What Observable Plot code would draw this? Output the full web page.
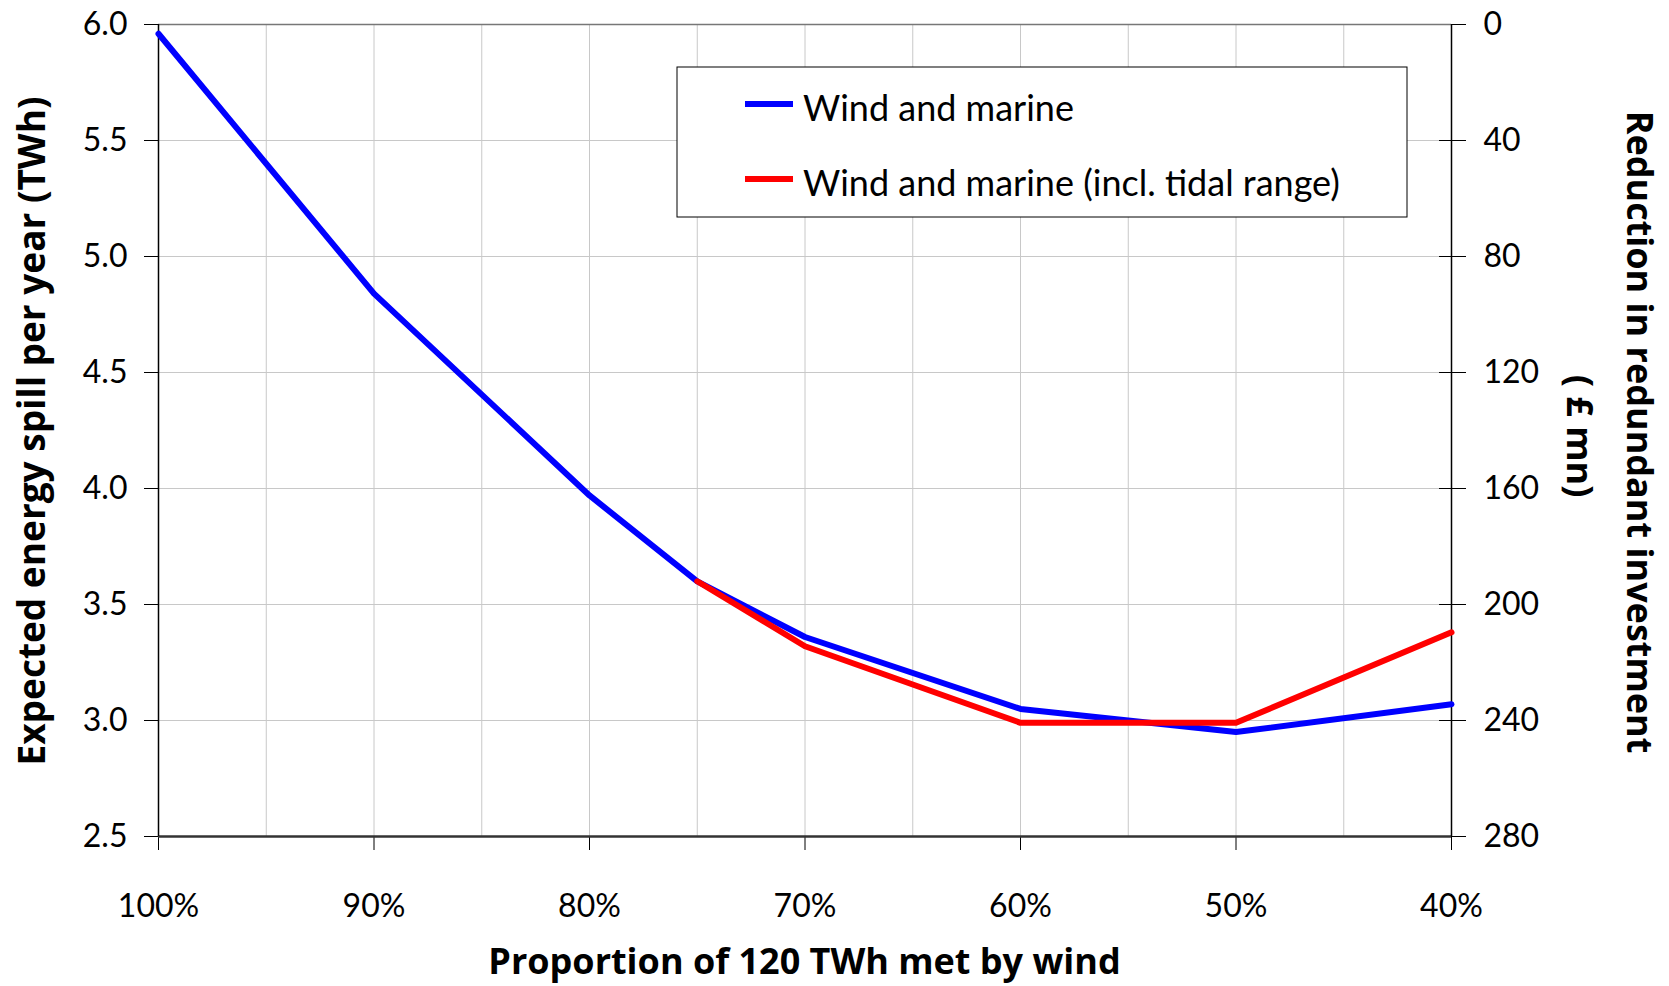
<!DOCTYPE html>
<html><head><meta charset="utf-8">
<script src="https://cdn.jsdelivr.net/npm/d3@7"></script>
<script src="https://cdn.jsdelivr.net/npm/@observablehq/plot@0.6"></script>
<style>body{margin:0;background:#fff} svg{display:block}</style>
</head><body><div id="chart"></div>
<script>
// ---- data ----
const proportions = [100, 90, 80, 75, 70, 60, 50, 40];
const windMarine = [5.96, 4.84, 3.97, 3.60, 3.36, 3.05, 2.95, 3.07];
const tidalProportions = [75, 70, 60, 50, 40];
const windMarineTidal = [3.60, 3.32, 2.99, 2.99, 3.38];
const seriesNames = ["Wind and marine", "Wind and marine (incl. tidal range)"];
const seriesColors = ["#0000ff", "#ff0000"];
const xTicks = [100, 90, 80, 70, 60, 50, 40];
const xGrid = [100, 95, 90, 85, 80, 75, 70, 65, 60, 55, 50, 45, 40];
const yTicks = [2.5, 3.0, 3.5, 4.0, 4.5, 5.0, 5.5, 6.0];
const rightTicks = [0, 40, 80, 120, 160, 200, 240, 280];
const xTitle = "Proportion of 120 TWh met by wind";
const yTitle = "Expected energy spill per year (TWh)";
const y2Title = ["Reduction in redundant investment", "( £ mn)"];

// right axis (£ mn, reversed) mapped onto left scale: 0 -> 6.0, 280 -> 2.5
const toLeft = v => 6 - v / 80;
const fromLeft = y => Math.round((6 - y) * 80);

const windRows = proportions.map((p, i) => ({p, v: windMarine[i]}));
const tidalRows = tidalProportions.map((p, i) => ({p, v: windMarineTidal[i]}));

const FONT = "Lato, 'Open Sans', sans-serif";
const TFONT = "'Open Sans', Lato, sans-serif";
const W = 1669, H = 986, ML = 158, MR = 218, MT = 24, MB = 150;

const chart = Plot.plot({
  width: W, height: H,
  marginLeft: ML, marginRight: MR, marginTop: MT, marginBottom: MB,
  style: {fontFamily: FONT, fontSize: "32px", color: "#000", background: "#fff"},
  x: {domain: [100, 40]},
  y: {domain: [2.5, 6]},
  marks: [
    Plot.gridX(xGrid, {stroke: "#c8c8c8", strokeOpacity: 1, strokeWidth: 1}),
    Plot.gridY(yTicks, {stroke: "#c8c8c8", strokeOpacity: 1, strokeWidth: 1}),
    Plot.axisX(xTicks, {tickSize: 14, tickPadding: 44, tickFormat: d => d + "%", label: null}),
    Plot.axisY(yTicks, {anchor: "left", tickSize: 14, tickPadding: 17, tickFormat: d => d.toFixed(1), label: null}),
    Plot.axisY(rightTicks.map(toLeft), {anchor: "right", tickSize: 27, insetRight: 13, tickPadding: 18,
      tickFormat: d => String(fromLeft(d)), textAnchor: "start", label: null}),
    Plot.ruleY([6], {stroke: "#777", strokeWidth: 1.5}),
    Plot.ruleY([2.5], {stroke: "#333", strokeWidth: 2.5}),
    Plot.ruleX([100], {stroke: "#000", strokeWidth: 1.5}),
    Plot.ruleX([40], {stroke: "#000", strokeWidth: 1.5}),
    Plot.line(windRows, {x: "p", y: "v", stroke: seriesColors[0], strokeWidth: 6}),
    Plot.line(tidalRows, {x: "p", y: "v", stroke: seriesColors[1], strokeWidth: 6})
  ]
});

const svg = d3.select(chart);
const title = (sel) => sel.attr("text-anchor", "middle")
  .attr("font-family", TFONT).attr("font-weight", "bold").attr("fill", "#000");
svg.append("text").attr("x", (ML + W - MR) / 2).attr("y", 974).call(title)
  .attr("font-size", 36).text(xTitle);
svg.append("text").attr("transform", `translate(30,${(MT + H - MB) / 2 + 1}) rotate(-90)`).call(title)
  .attr("dominant-baseline", "central").attr("font-size", 37).text(yTitle);
svg.append("text").attr("transform", `translate(1640,432) rotate(90)`).call(title)
  .attr("dominant-baseline", "central").attr("font-size", 36).text(y2Title[0]);
svg.append("text").attr("transform", `translate(1580,436) rotate(90)`).call(title)
  .attr("dominant-baseline", "central").attr("font-size", 36).text(y2Title[1]);

// legend
const lg = svg.append("g");
lg.append("rect").attr("x", 677).attr("y", 67).attr("width", 730).attr("height", 150)
  .attr("fill", "#fff").attr("stroke", "#000").attr("stroke-width", 1);
seriesNames.forEach((name, i) => {
  const cy = 104 + i * 75;
  lg.append("line").attr("x1", 745).attr("x2", 793).attr("y1", cy).attr("y2", cy)
    .attr("stroke", seriesColors[i]).attr("stroke-width", 6);
  lg.append("text").attr("x", 803).attr("y", cy + 3).attr("text-anchor", "start")
    .attr("dominant-baseline", "central").attr("font-family", FONT)
    .attr("font-size", 36).attr("fill", "#000").text(name);
});

document.getElementById("chart").appendChild(chart);
</script>
</body></html>
